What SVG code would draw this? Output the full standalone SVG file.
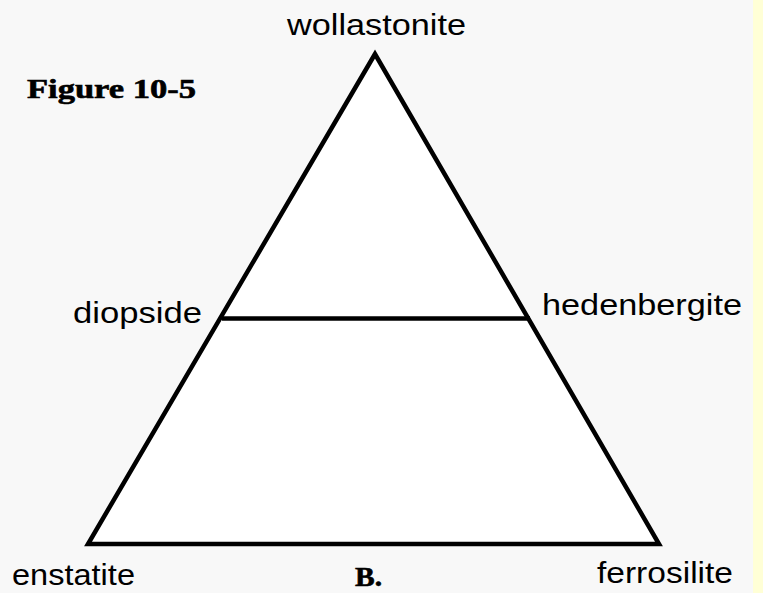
<svg xmlns="http://www.w3.org/2000/svg" width="763" height="593" viewBox="0 0 763 593">
<style>
.lbl{font-family:"Liberation Sans",Arial,sans-serif;font-size:30px;fill:#000}
.bold{font-family:"Liberation Serif","Times New Roman",serif;font-weight:bold;fill:#000;stroke:#000;stroke-width:0.6}
.edge{fill:none;stroke:#000;stroke-width:4.5}
</style>
<rect x="0" y="0" width="763" height="593" fill="#f8f8f8"/>
<rect x="753" y="0" width="10" height="593" fill="#ffffd6"/>
<g id="triangle">
<polygon points="375,54 88,544 659,544" fill="#fff" stroke="#000" stroke-width="4.5" stroke-linejoin="miter"/>
</g>
<g id="connectors">
<line class="edge" x1="222" y1="318.5" x2="530" y2="318.5"/>
</g>
<g id="title"><text class="bold" x="27" y="98" font-size="27" textLength="169" lengthAdjust="spacingAndGlyphs">Figure 10-5</text></g>
<g id="wollastonite"><text class="lbl" x="287" y="35" textLength="179" lengthAdjust="spacingAndGlyphs">wollastonite</text></g>
<g id="diopside"><text class="lbl" x="73" y="323" textLength="129" lengthAdjust="spacingAndGlyphs">diopside</text></g>
<g id="hedenbergite"><text class="lbl" x="542" y="315" textLength="200" lengthAdjust="spacingAndGlyphs">hedenbergite</text></g>
<g id="enstatite"><text class="lbl" x="12" y="585" textLength="123" lengthAdjust="spacingAndGlyphs">enstatite</text></g>
<g id="ferrosilite"><text class="lbl" x="597" y="583" textLength="136" lengthAdjust="spacingAndGlyphs">ferrosilite</text></g>
<g id="label-b"><text class="bold" x="355" y="586" font-size="27" textLength="27" lengthAdjust="spacingAndGlyphs">B.</text></g>
</svg>
